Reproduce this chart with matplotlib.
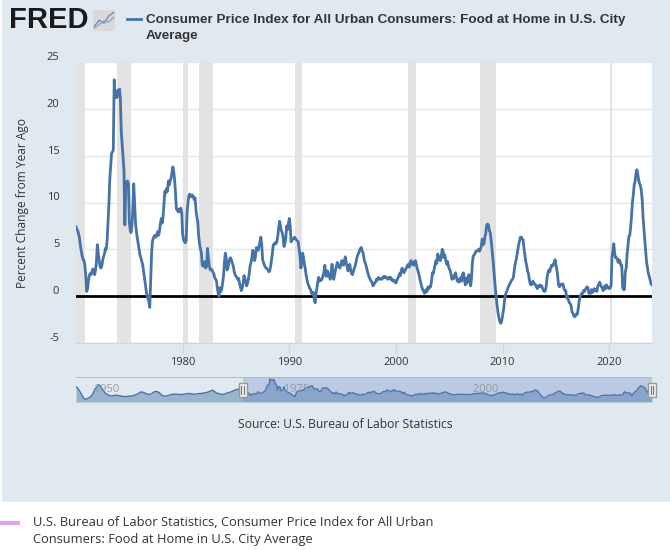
import numpy as np
import pandas as pd
import matplotlib
matplotlib.use("Agg")
import matplotlib.pyplot as plt
import matplotlib.transforms as mtransforms
import matplotlib.dates as mdates
from matplotlib.patches import Rectangle

# ---------------- data (percent change from year ago, monthly) ----------------
cpi_1970s = [
    7.4, 7.1, 7.0, 6.6, 6.2, 5.4, 4.8, 4.3, 3.9, 3.8, 3.3, 2.2,
    0.5, 0.8, 1.6, 2.2, 2.4, 2.3, 2.6, 2.9, 2.6, 2.3, 2.8, 3.6,
    5.5, 4.6, 3.9, 3.2, 3.0, 3.2, 3.8, 4.2, 4.5, 5.1, 5.0, 5.9,
    7.8, 9.9, 12.4, 13.8, 15.2, 15.4, 15.6, 23.1, 21.2, 21.6, 21.2, 22.0,
    21.5, 22.1, 21.0, 17.5, 16.2, 14.8, 13.5, 7.6, 11.8, 12.2, 12.3, 12.0,
    8.0, 7.0, 6.8, 7.5, 9.5, 12.0, 10.0, 7.8, 6.9, 6.2, 5.6, 5.0,
    4.4, 4.1, 3.7, 3.4, 2.7, 2.0, 1.3, 0.6, 0.0, -0.3, -0.6, -1.2,
    1.8, 4.5, 5.8, 6.2, 6.4, 6.5, 6.3, 6.6, 6.9, 6.5, 7.0, 7.8,
    8.3, 7.8, 8.5, 9.8, 11.2, 11.0, 11.5, 11.2, 12.3, 11.9, 12.3, 12.6,
    13.2, 13.8, 13.3, 12.4, 11.0, 9.3, 9.2, 9.0, 9.3, 9.0, 9.4, 8.9,
]
cpi_1980s = [
    6.6, 6.0, 5.8, 5.7, 6.0, 8.9, 10.0, 10.7, 10.9, 10.7, 10.6, 10.8,
    10.6, 10.3, 10.5, 9.2, 8.5, 7.9, 6.5, 5.6, 5.0, 4.7, 3.3, 3.2,
    3.6, 3.7, 3.0, 3.2, 5.1, 4.0, 3.3, 2.8, 2.9, 2.8, 2.6, 2.4,
    2.0, 1.8, 1.7, 0.9, 0.3, 0.0, 0.9, 0.5, 0.8, 1.4, 2.2, 3.6,
    4.6, 4.0, 2.8, 3.0, 3.6, 4.0, 4.1, 3.8, 3.5, 3.2, 2.6, 2.3,
    2.1, 2.0, 1.8, 1.9, 1.4, 1.0, 0.6, 0.9, 1.3, 2.2, 1.9, 1.6,
    1.1, 1.4, 1.8, 2.5, 3.3, 3.6, 4.2, 4.9, 4.5, 3.8, 4.3, 5.2,
    5.0, 4.9, 5.3, 5.8, 6.3, 5.5, 3.9, 3.6, 3.3, 3.1, 3.0, 2.9,
    2.8, 2.6, 2.7, 3.2, 3.9, 4.6, 5.5, 5.5, 5.7, 5.6, 5.8, 6.4,
    7.3, 8.0, 7.6, 7.0, 6.8, 6.3, 5.3, 5.6, 6.2, 7.5, 7.1, 7.8,
]
cpi_1990s = [
    8.3, 7.4, 5.8, 6.0, 6.1, 6.2, 6.3, 6.1, 6.0, 5.9, 5.8, 5.0,
    4.3, 3.0, 3.6, 4.6, 4.1, 3.4, 2.9, 2.2, 1.7, 1.3, 1.1, 0.8,
    0.7, 0.3, 0.2, 0.4, -0.2, -0.7, 0.2, 0.8, 1.5, 2.0, 1.6, 1.8,
    1.7, 1.9, 2.2, 2.6, 3.3, 2.2, 2.1, 2.7, 2.4, 2.1, 1.8, 2.4,
    3.4, 2.5, 1.8, 2.3, 2.8, 3.2, 3.6, 3.3, 3.1, 3.0, 3.4, 3.8,
    3.6, 3.3, 3.8, 4.2, 3.6, 3.2, 2.7, 3.0, 3.4, 2.8, 2.4, 2.3,
    2.6, 3.0, 3.2, 3.6, 4.1, 4.4, 4.6, 4.9, 5.1, 5.2, 4.8, 4.6,
    4.0, 3.6, 3.4, 3.0, 2.6, 2.3, 2.0, 1.8, 1.6, 1.5, 1.1, 1.2,
    1.4, 1.5, 1.8, 1.7, 2.0, 1.9, 1.8, 1.9, 1.8, 1.9, 2.1, 2.0,
    2.1, 2.0, 1.9, 1.8, 2.0, 1.9, 2.0, 1.7, 1.8, 1.6, 1.7, 1.5,
]
cpi_2000s = [
    1.4, 1.7, 1.9, 2.1, 2.4, 2.2, 2.8, 3.0, 2.6, 2.5, 2.7, 2.9,
    3.1, 3.3, 3.4, 3.1, 3.6, 3.8, 3.4, 3.6, 3.3, 3.7, 3.8, 3.3,
    2.9, 2.6, 2.2, 1.8, 1.4, 1.0, 0.7, 0.6, 0.3, 0.4, 0.7, 0.5,
    1.0, 0.8, 1.0, 1.0, 1.6, 2.5, 2.4, 2.9, 3.4, 3.8, 3.5, 4.5,
    4.2, 3.9, 3.8, 4.3, 5.0, 4.8, 4.1, 4.4, 3.8, 3.4, 3.7, 3.2,
    2.9, 2.7, 2.3, 1.8, 2.1, 1.9, 2.3, 2.5, 2.0, 1.6, 1.8, 1.5,
    1.8, 2.0, 1.6, 2.4, 2.5, 1.8, 1.2, 1.9, 1.4, 2.0, 2.3, 1.9,
    1.1, 2.0, 3.6, 4.3, 4.4, 4.6, 4.8, 4.8, 4.9, 5.0, 4.8, 5.0,
    5.4, 6.1, 5.5, 5.6, 6.3, 6.7, 7.6, 7.7, 7.6, 7.0, 6.8, 6.0,
    5.0, 4.0, 2.9, 1.8, 0.6, -0.4, -1.2, -1.9, -2.4, -2.8, -2.9, -2.6,
]
cpi_2010s = [
    -2.0, -1.4, -0.6, 0.1, 0.4, 0.6, 0.9, 1.1, 1.3, 1.5, 1.7, 1.8,
    2.0, 2.7, 3.4, 3.8, 4.3, 4.9, 5.5, 5.9, 6.3, 6.3, 6.1, 6.0,
    5.1, 4.4, 3.7, 3.3, 2.7, 2.4, 1.8, 1.3, 1.2, 1.3, 1.6, 1.4,
    1.3, 1.2, 1.0, 0.8, 1.1, 1.0, 1.2, 1.0, 1.1, 0.8, 0.6, 0.5,
    0.6, 1.1, 2.0, 2.5, 2.8, 2.6, 3.0, 3.3, 3.2, 3.4, 3.6, 3.9,
    3.3, 2.8, 2.1, 1.1, 1.0, 1.2, 1.3, 1.2, 1.3, 0.8, 0.6, 0.6,
    -0.2, 0.0, -0.4, -0.7, -0.8, -1.0, -1.7, -1.8, -2.1, -2.2, -2.1, -1.9,
    -1.9, -1.3, -0.6, 0.0, 0.1, 0.3, 0.3, 0.6, 0.5, 0.7, 0.9, 1.0,
    0.9, 0.3, 0.5, 0.3, 0.7, 0.4, 0.5, 0.8, 0.6, 0.7, 0.5, 1.1,
    1.2, 1.5, 1.3, 1.0, 0.9, 0.6, 0.7, 1.1, 0.8, 1.2, 1.0, 0.9,
]
cpi_2020s = [
    0.8, 0.9, 1.1, 4.1, 4.8, 5.6, 4.6, 4.1, 4.1, 3.9, 3.6, 3.9,
    3.7, 3.3, 3.3, 0.9, 0.7, 0.7, 2.6, 3.0, 4.5, 5.4, 6.4, 6.5,
    7.4, 8.6, 10.0, 10.8, 11.9, 12.2, 13.1, 13.5, 13.0, 12.4, 12.0, 11.8,
    11.3, 10.2, 8.4, 7.1, 5.8, 4.7, 3.6, 3.0, 2.4, 2.1, 1.7, 1.3,
    1.2,
]
# earlier history, shown only in the navigator (quarterly, 1948-1969)
cpi_pre1970_quarterly = [
    12.4, 10.0, 6.0, 1.5, -3.5, -4.8, -3.8, -2.5, -0.5, 3.0, 9.0, 12.0,
    15.0, 12.5, 8.0, 5.0, 2.5, 1.0, 0.0, -0.3, 0.3, 0.8, 0.5, 0.0,
    -0.5, -1.0, -1.1, -0.8, -0.6, -0.5, 0.0, 0.8, 1.7, 3.0, 5.0, 5.0,
    4.0, 3.0, 2.0, 1.7, 3.0, 5.0, 6.0, 5.5, 4.0, 1.5, -0.2, -0.5,
    0.0, 0.8, 1.5, 2.0, 2.2, 2.0, 1.8, 1.7, 1.7, 2.0, 2.5, 3.1,
    3.0, 2.5, 2.2, 2.2, 2.5, 3.0, 3.1, 3.5, 4.0, 4.5, 5.4, 6.5,
    7.7, 6.0, 4.0, 3.1, 2.5, 1.7, 2.0, 3.0, 4.0, 4.5, 5.5, 6.5,
    7.7, 8.5, 9.0, 8.0,
]
recession_starts = ["1969-12-01", "1973-11-01", "1980-01-01", "1981-07-01",
                    "1990-07-01", "2001-03-01", "2007-12-01", "2020-02-01"]
recession_ends = ["1970-11-01", "1975-03-01", "1980-07-01", "1982-11-01",
                  "1991-03-01", "2001-11-01", "2009-06-01", "2020-04-01"]
y_ticks = [-5, 0, 5, 10, 15, 20, 25]
x_tick_years = [1980, 1990, 2000, 2010, 2020]
nav_label_years = [1950, 1975, 2000]

title_text = ("Consumer Price Index for All Urban Consumers: Food at Home in U.S. City",
              "Average")
y_label = "Percent Change from Year Ago"
source_text = "Source: U.S. Bureau of Labor Statistics"
note_text = ("U.S. Bureau of Labor Statistics, Consumer Price Index for All Urban",
             "Consumers: Food at Home in U.S. City Average")

# ---------------- build series ----------------
values = cpi_1970s + cpi_1980s + cpi_1990s + cpi_2000s + cpi_2010s + cpi_2020s
dates = pd.date_range("1970-01-01", periods=len(values), freq="MS")
pre_dates = pd.date_range("1948-01-01", periods=len(cpi_pre1970_quarterly), freq="QS")
nav_dates = pre_dates.append(dates)
nav_values = list(cpi_pre1970_quarterly) + values

# ---------------- figure ----------------
W, H = 670, 550
fig = plt.figure(figsize=(W / 100, H / 100), dpi=100)
fig.patch.set_facecolor("white")

BG = "#e1e9f0"
LINE = "#4572a7"
TXT = "#333333"
FONT = ["Open Sans", "DejaVu Sans"]


def fx(px):
    return px / W


def fy(py):
    return 1 - py / H


# grey-blue panel (behind everything)
bg_ax = fig.add_axes([fx(2), fy(502), fx(668), 502 / H], zorder=-10)
bg_ax.set_facecolor(BG)
bg_ax.set_xticks([])
bg_ax.set_yticks([])
for s in bg_ax.spines.values():
    s.set_visible(False)

# FRED logo
fig.text(fx(9), fy(20), "FRED", fontsize=21, fontweight="bold", color="#1a1a1a",
         family=["Liberation Sans", "DejaVu Sans"], va="center", ha="left")
icon = fig.add_axes([fx(93), fy(31), fx(22), 21 / H])
icon.set_facecolor("#d9d9d9")
for s in icon.spines.values():
    s.set_visible(False)
icon.set_xticks([])
icon.set_yticks([])
icon.plot([0, 1, 2, 3, 4], [0.5, 1.5, 1.0, 2.2, 2.8], color="#6d8fc0", lw=1)
icon.plot([0, 1, 2, 3, 4], [0.2, 0.8, 1.4, 1.2, 2.0], color="#9aa7b8", lw=1)
icon.set_xlim(-0.3, 4.3)
icon.set_ylim(-0.3, 3.2)

# header legend
fig.lines.append(plt.Line2D([fx(127), fx(141)], [fy(19), fy(19)], transform=fig.transFigure,
                            color=LINE, lw=2))
HEAD_FONT = ["Liberation Sans", "DejaVu Sans"]
fig.text(fx(146), fy(20), title_text[0], fontsize=9.7, fontweight="bold", color=TXT,
         family=HEAD_FONT, va="center", ha="left")
fig.text(fx(146), fy(36.5), title_text[1], fontsize=9.7, fontweight="bold", color=TXT,
         family=HEAD_FONT, va="center", ha="left")

# ---------------- main axes ----------------
L, R, T, B = 76, 652, 62, 343
ax = fig.add_axes([fx(L), fy(B), fx(R - L), (B - T) / H])
ax.set_facecolor("white")

for s0, s1 in zip(recession_starts, recession_ends):
    ax.axvspan(pd.Timestamp(s0), pd.Timestamp(s1), color="#e3e3e3", lw=0, zorder=1)

ax.plot(dates, values, color=LINE, lw=2, zorder=4, solid_joinstyle="round")
ax.axhline(0, color="black", lw=2, zorder=3)

ax.set_xlim(pd.Timestamp("1970-01-01"), pd.Timestamp("2024-01-01"))
ax.set_ylim(-5, 25)
ax.set_yticks(y_ticks)
ax.set_yticklabels([str(v) for v in y_ticks])
ax.yaxis.grid(True, color="#e6e6e6", lw=1, zorder=2)
ax.set_axisbelow(True)
ax.tick_params(axis="y", length=0, pad=12, labelsize=8, labelcolor=TXT)
for lbl in ax.get_yticklabels():
    lbl.set_family(FONT)
    lbl.set_transform(lbl.get_transform() +
                      mtransforms.ScaledTranslation(0, 6 / 100, fig.dpi_scale_trans))

ax.set_xticks([pd.Timestamp(f"{y}-01-01") for y in x_tick_years])
ax.set_xticklabels([str(y) for y in x_tick_years])
ax.tick_params(axis="x", length=7, width=1, color="#ccd6eb", pad=3, labelsize=8,
               labelcolor=TXT)
for lbl in ax.get_xticklabels():
    lbl.set_family(FONT)

for side in ["top", "right", "left"]:
    ax.spines[side].set_visible(False)
ax.spines["bottom"].set_color("#ccd6eb")
ax.spines["bottom"].set_linewidth(1)

fig.text(fx(23), fy((T + B) / 2), y_label, rotation=90, fontsize=8.6, color=TXT,
         family=FONT, va="center", ha="center")

# ---------------- navigator ----------------
NT, NB = 377, 402
nav = fig.add_axes([fx(L), fy(NB), fx(R - L), (NB - NT) / H])
nav.set_facecolor("none")
nav.fill_between(nav_dates, nav_values, -8.5, color=LINE, alpha=0.45, lw=0, zorder=2)
nav.plot(nav_dates, nav_values, color=LINE, lw=1, zorder=3)
nav.set_xlim(pd.Timestamp("1948-01-01"), pd.Timestamp("2024-01-01"))
nav.set_ylim(-8.5, 25.5)
nav.axvspan(pd.Timestamp("1970-01-01"), pd.Timestamp("2024-01-01"),
            color=(102 / 255, 133 / 255, 194 / 255), alpha=0.3, lw=0, zorder=4)
nav.set_xticks([])
nav.set_yticks([])
for s in nav.spines.values():
    s.set_visible(False)
nav.axhline(25.5, color="#b5b5b5", lw=1.2, zorder=5)
for yr in nav_label_years:
    nav.text(pd.Timestamp(f"{yr}-01-01"), 0.5, " " + str(yr), transform=nav.get_xaxis_transform(),
             fontsize=8, color="#999999", family=FONT, va="center", ha="left", zorder=6)

# handles
for hx in (pd.Timestamp("1970-01-01"), pd.Timestamp("2024-01-01")):
    xd = nav.transData.transform((mdates.date2num(hx), 0))[0]
    x0 = xd / fig.dpi / (W / 100)
    fig.patches.append(Rectangle((x0 - fx(4), fy(397)), fx(8), 14 / H, transform=fig.transFigure,
                                 facecolor="#f2f2f2", edgecolor="#999999", lw=1, zorder=10))
    for dx in (-1.3, 1.3):
        fig.lines.append(plt.Line2D([x0 + fx(dx), x0 + fx(dx)], [fy(386), fy(394)],
                                    transform=fig.transFigure, color="#777777", lw=0.8, zorder=11))

# source
fig.text(fx(345), fy(425), source_text, fontsize=8.7, color=TXT, family=FONT,
         va="center", ha="center")

# bottom note
fig.lines.append(plt.Line2D([fx(2), fx(18)], [fy(523), fy(523)], transform=fig.transFigure,
                            color="#d9a5e4", lw=3))
fig.text(fx(33), fy(523), note_text[0], fontsize=9.3, color=TXT, family=FONT,
         va="center", ha="left")
fig.text(fx(33), fy(540), note_text[1], fontsize=9.3, color=TXT, family=FONT,
         va="center", ha="left")

fig.savefig("out.png", dpi=100, facecolor="white")
